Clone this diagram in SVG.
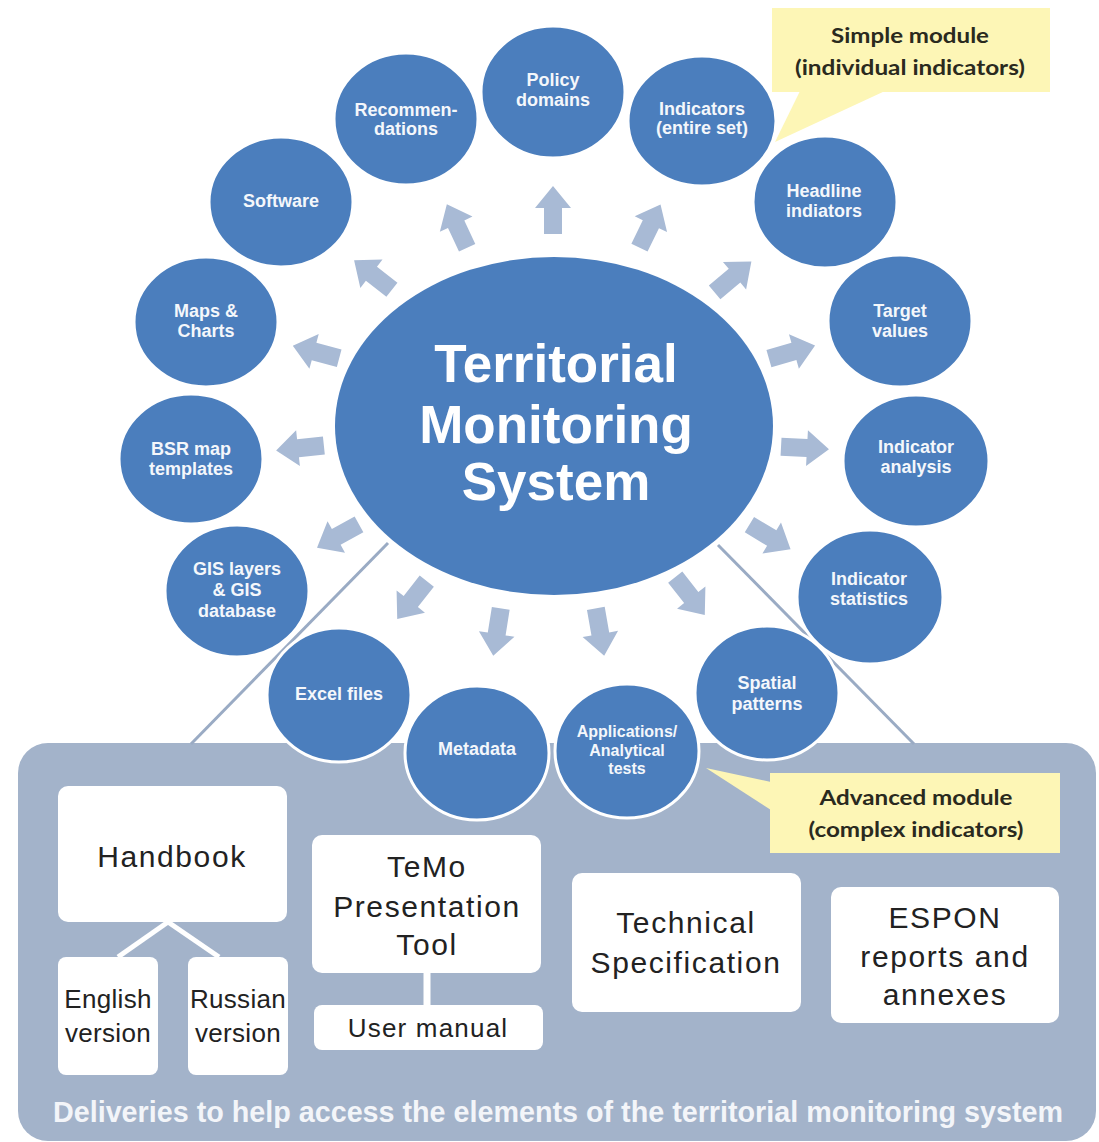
<svg xmlns="http://www.w3.org/2000/svg" xmlns:xlink="http://www.w3.org/1999/xlink" width="1099" height="1142" viewBox="0 0 1099 1142">
<style>
.circ{fill:#4b7ebd;stroke:#ffffff;stroke-width:3}
.ct{font-family:"Liberation Sans",Arial,sans-serif;font-weight:bold;font-size:18px;fill:#f4f7fb;text-anchor:middle}
.ct16{font-size:16px}
.main{font-family:"Liberation Sans",Arial,sans-serif;font-weight:bold;font-size:53px;fill:#ffffff;text-anchor:middle}
.box{fill:#ffffff}
.bt{font-family:"Liberation Sans",Arial,sans-serif;font-size:30px;fill:#222222;text-anchor:middle;letter-spacing:1.6px}
.bts{font-size:26px;letter-spacing:1.2px}
.btn{font-size:26px;letter-spacing:0.3px}
.arrow{fill:#a8bad5}
.guide{stroke:#9aabc4;stroke-width:3;fill:none}
.wl{stroke:#ffffff;fill:none}
.call{fill:#fdf6b6}
.calt{font-family:Lato,"Open Sans",sans-serif;font-weight:bold;font-size:21px;fill:#2a2a1e;text-anchor:middle}
.foot{font-family:"Liberation Sans",Arial,sans-serif;font-weight:bold;font-size:29px;fill:#f3f5f9}
</style>
<defs>
<path id="arr" d="M-24,-9 L2,-9 L2,-18 L24,0 L2,18 L2,9 L-24,9 Z"/>
</defs>
<rect x="0" y="0" width="1099" height="1142" fill="#ffffff"/>

<g id="panel">
<rect x="18" y="743" width="1078" height="398" rx="30" ry="30" fill="#a3b3ca"/>
</g>

<g id="connectors">
<line class="guide" x1="388" y1="543" x2="191" y2="744"/>
<line class="guide" x1="718" y1="545" x2="914" y2="744"/>
<g class="arrow">
<use xlink:href="#arr" transform="translate(457,226) rotate(-115)"/>
<use xlink:href="#arr" transform="translate(553,210) rotate(-90)"/>
<use xlink:href="#arr" transform="translate(650,226) rotate(-64)"/>
<use xlink:href="#arr" transform="translate(733,277) rotate(-40)"/>
<use xlink:href="#arr" transform="translate(792,352) rotate(-16)"/>
<use xlink:href="#arr" transform="translate(805,448) rotate(3)"/>
<use xlink:href="#arr" transform="translate(770,537) rotate(31)"/>
<use xlink:href="#arr" transform="translate(690,596) rotate(52)"/>
<use xlink:href="#arr" transform="translate(600,632) rotate(80)"/>
<use xlink:href="#arr" transform="translate(497,632) rotate(99)"/>
<use xlink:href="#arr" transform="translate(412,600) rotate(128)"/>
<use xlink:href="#arr" transform="translate(338,536) rotate(151)"/>
<use xlink:href="#arr" transform="translate(300,448) rotate(174)"/>
<use xlink:href="#arr" transform="translate(316,352) rotate(-165)"/>
<use xlink:href="#arr" transform="translate(373,275) rotate(-142)"/>
</g>
<line class="wl" x1="168" y1="922" x2="118" y2="957" stroke-width="5"/>
<line class="wl" x1="168" y1="922" x2="219" y2="957" stroke-width="5"/>
<line class="wl" x1="427" y1="972" x2="427" y2="1006" stroke-width="7"/>
</g>

<g id="center">
<ellipse cx="554" cy="426" rx="219" ry="169" fill="#4b7ebd"/>
<text class="main" x="556" y="382">Territorial</text>
<text class="main" x="556" y="443">Monitoring</text>
<text class="main" x="556" y="500">System</text>
</g>

<g id="n-policy"><ellipse class="circ" cx="553" cy="92" rx="72" ry="66"/><text class="ct" x="553" y="86">Policy</text><text class="ct" x="553" y="106">domains</text></g>
<g id="n-recommendations"><ellipse class="circ" cx="406" cy="119" rx="72" ry="66"/><text class="ct" x="406" y="116">Recommen-</text><text class="ct" x="406" y="135">dations</text></g>
<g id="n-indicators"><ellipse class="circ" cx="702" cy="121" rx="74" ry="65"/><text class="ct" x="702" y="115">Indicators</text><text class="ct" x="702" y="134">(entire set)</text></g>
<g id="n-headline"><ellipse class="circ" cx="825" cy="202" rx="72" ry="66"/><text class="ct" x="824" y="197">Headline</text><text class="ct" x="824" y="217">indiators</text></g>
<g id="n-target"><ellipse class="circ" cx="900" cy="321" rx="72" ry="66"/><text class="ct" x="900" y="317">Target</text><text class="ct" x="900" y="337">values</text></g>
<g id="n-analysis"><ellipse class="circ" cx="916" cy="461" rx="73" ry="66"/><text class="ct" x="916" y="453">Indicator</text><text class="ct" x="916" y="473">analysis</text></g>
<g id="n-statistics"><ellipse class="circ" cx="870" cy="597" rx="73" ry="67"/><text class="ct" x="869" y="585">Indicator</text><text class="ct" x="869" y="605">statistics</text></g>
<g id="n-spatial"><ellipse class="circ" cx="767" cy="693" rx="72" ry="67"/><text class="ct" x="767" y="689">Spatial</text><text class="ct" x="767" y="710">patterns</text></g>
<g id="n-applications"><ellipse class="circ" cx="627" cy="751" rx="72" ry="67"/><text class="ct ct16" x="627" y="737">Applications/</text><text class="ct ct16" x="627" y="756">Analytical</text><text class="ct ct16" x="627" y="774">tests</text></g>
<g id="n-metadata"><ellipse class="circ" cx="477" cy="753" rx="72" ry="67"/><text class="ct" x="477" y="755">Metadata</text></g>
<g id="n-excel"><ellipse class="circ" cx="339" cy="695" rx="72" ry="67"/><text class="ct" x="339" y="700">Excel files</text></g>
<g id="n-gis"><ellipse class="circ" cx="237" cy="591" rx="72" ry="66"/><text class="ct" x="237" y="575">GIS layers</text><text class="ct" x="237" y="596">&amp; GIS</text><text class="ct" x="237" y="617">database</text></g>
<g id="n-bsr"><ellipse class="circ" cx="191" cy="459" rx="72" ry="65"/><text class="ct" x="191" y="455">BSR map</text><text class="ct" x="191" y="475">templates</text></g>
<g id="n-maps"><ellipse class="circ" cx="206" cy="322" rx="72" ry="65"/><text class="ct" x="206" y="317">Maps &amp;</text><text class="ct" x="206" y="337">Charts</text></g>
<g id="n-software"><ellipse class="circ" cx="281" cy="202" rx="72" ry="65"/><text class="ct" x="281" y="207">Software</text></g>

<g id="callout-simple">
<polygon class="call" points="800,91 885,91 775,142"/>
<rect class="call" x="772" y="8" width="278" height="84"/>
<text class="calt" x="910" y="43" textLength="158" lengthAdjust="spacingAndGlyphs">Simple module</text>
<text class="calt" x="910" y="75" textLength="230" lengthAdjust="spacingAndGlyphs">(individual indicators)</text>
</g>

<g id="callout-advanced">
<polygon class="call" points="706,768 771,782 771,810"/>
<rect class="call" x="770" y="773" width="290" height="80"/>
<text class="calt" x="916" y="805" textLength="193" lengthAdjust="spacingAndGlyphs">Advanced module</text>
<text class="calt" x="916" y="837" textLength="215" lengthAdjust="spacingAndGlyphs">(complex indicators)</text>
</g>

<g id="b-handbook"><rect class="box" x="58" y="786" width="229" height="136" rx="10"/><text class="bt" x="172" y="867">Handbook</text></g>
<g id="b-english"><rect class="box" x="58" y="957" width="100" height="118" rx="8"/><text class="bt btn" x="108" y="1008">English</text><text class="bt btn" x="108" y="1042">version</text></g>
<g id="b-russian"><rect class="box" x="188" y="957" width="100" height="118" rx="8"/><text class="bt btn" x="238" y="1008">Russian</text><text class="bt btn" x="238" y="1042">version</text></g>
<g id="b-temo"><rect class="box" x="312" y="835" width="229" height="138" rx="10"/><text class="bt" x="427" y="877">TeMo</text><text class="bt" x="427" y="917">Presentation</text><text class="bt" x="427" y="955">Tool</text></g>
<g id="b-manual"><rect class="box" x="314" y="1005" width="229" height="45" rx="8"/><text class="bt bts" x="428" y="1037">User manual</text></g>
<g id="b-technical"><rect class="box" x="572" y="873" width="229" height="139" rx="10"/><text class="bt" x="686" y="933">Technical</text><text class="bt" x="686" y="973">Specification</text></g>
<g id="b-espon"><rect class="box" x="831" y="887" width="228" height="136" rx="10"/><text class="bt" x="945" y="928">ESPON</text><text class="bt" x="945" y="967">reports and</text><text class="bt" x="945" y="1005">annexes</text></g>

<text class="foot" x="53" y="1122" textLength="1010" lengthAdjust="spacingAndGlyphs">Deliveries to help access the elements of the territorial monitoring system</text>
</svg>
